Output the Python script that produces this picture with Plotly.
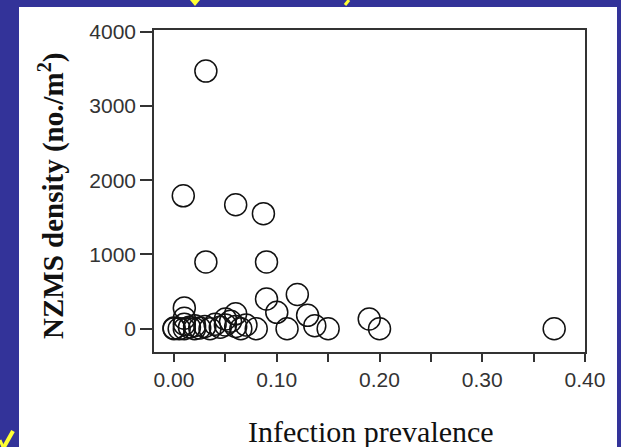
import plotly.graph_objects as go

# Snail density against trematode infection prevalence, one circle per site
prevalence = [
    0.0, 0.0, 0.005, 0.01, 0.01, 0.01, 0.01, 0.015, 0.02, 0.02, 0.025, 0.03,
    0.035, 0.04, 0.045, 0.05, 0.05, 0.055, 0.06, 0.06, 0.065, 0.07, 0.08,
    0.031, 0.009, 0.06, 0.087, 0.031, 0.09, 0.09, 0.12, 0.10, 0.13, 0.137,
    0.15, 0.11, 0.19, 0.20, 0.37,
]
density = [
    0, 10, 0, 0, 60, 140, 280, 20, 0, 40, 10, 30,
    0, 60, 20, 50, 130, 100, 200, 30, 0, 50, 0,
    3470, 1790, 1670, 1550, 900, 900, 400, 460, 220, 180, 40,
    0, 0, 130, 0, 0,
]

x_ticks = [0.0, 0.10, 0.20, 0.30, 0.40]
x_tick_text = ["0.00", "0.10", "0.20", "0.30", "0.40"]
x_minor_step = 0.05
y_ticks = [0, 1000, 2000, 3000, 4000]
y_tick_text = ["0", "1000", "2000", "3000", "4000"]

W, H = 621, 447
L, R, T, B = 154, 36, 30, 95
pw, ph = W - L - R, H - T - B

def px_x(p):
    return (p - L) / pw

def px_y(p):
    return (H - B - p) / ph

fig = go.Figure()
fig.add_trace(go.Scatter(
    x=prevalence, y=density, mode="markers",
    marker=dict(symbol="circle-open", size=22, color="#111111",
                line=dict(width=1.5, color="#111111")),
    hoverinfo="x+y", showlegend=False,
))

tick_font = dict(family="Liberation Sans, Arial, sans-serif", size=21, color="#333333")

fig.update_xaxes(
    range=[-0.0195, 0.40], tickmode="array", tickvals=x_ticks, ticktext=x_tick_text,
    ticks="outside", ticklen=8, tickwidth=1.5, tickcolor="#333333",
    minor=dict(tick0=0, dtick=x_minor_step, ticks="outside", ticklen=8,
               tickwidth=1.5, tickcolor="#333333", showgrid=False),
    showline=True, linecolor="#333333", linewidth=1.5, mirror=True,
    showgrid=False, zeroline=False, tickfont=tick_font,
)
fig.update_yaxes(
    range=[-314, 4024], tickmode="array", tickvals=y_ticks, ticktext=y_tick_text,
    ticks="outside", ticklen=12, tickwidth=1.5, tickcolor="#333333",
    showline=True, linecolor="#333333", linewidth=1.5, mirror=True,
    showgrid=False, zeroline=False, tickfont=tick_font,
)

shapes = [
    # white slide panel behind the chart
    dict(type="rect", xref="paper", yref="paper", layer="below",
         x0=px_x(19), x1=px_x(617), y0=px_y(447), y1=px_y(7),
         fillcolor="white", line=dict(width=0)),
    # yellow pen strokes at the slide edges
    dict(type="path", xref="paper", yref="paper",
         path=f"M {px_x(190)} {px_y(0)} L {px_x(200)} {px_y(0)} L {px_x(195)} {px_y(6)} Z",
         fillcolor="#ffff33", line=dict(width=0)),
    dict(type="line", xref="paper", yref="paper",
         x0=px_x(345), y0=px_y(5), x1=px_x(349), y1=px_y(0),
         line=dict(color="#ffff33", width=3)),
    dict(type="line", xref="paper", yref="paper",
         x0=px_x(13), y0=px_y(431), x1=px_x(4), y1=px_y(447),
         line=dict(color="#ffff33", width=4)),
    dict(type="line", xref="paper", yref="paper",
         x0=px_x(0), y0=px_y(440), x1=px_x(3), y1=px_y(447),
         line=dict(color="#ffff33", width=3)),
]

annotations = [
    dict(text="NZMS density (no./m<sup>2</sup>)", xref="paper", yref="paper",
         x=px_x(51), y=px_y(196), textangle=-90, showarrow=False,
         xanchor="center", yanchor="middle",
         font=dict(family="Liberation Serif, Times New Roman, serif", size=29,
                   color="#111111", weight="bold")),
    dict(text="Infection prevalence", xref="paper", yref="paper",
         x=px_x(371), y=px_y(431), showarrow=False,
         xanchor="center", yanchor="middle",
         font=dict(family="Liberation Serif, Times New Roman, serif", size=30,
                   color="#111111")),
]

fig.update_layout(
    width=W, height=H,
    margin=dict(l=L, r=R, t=T, b=B),
    paper_bgcolor="#333399", plot_bgcolor="white",
    shapes=shapes, annotations=annotations,
)

fig.write_html("out.html")
